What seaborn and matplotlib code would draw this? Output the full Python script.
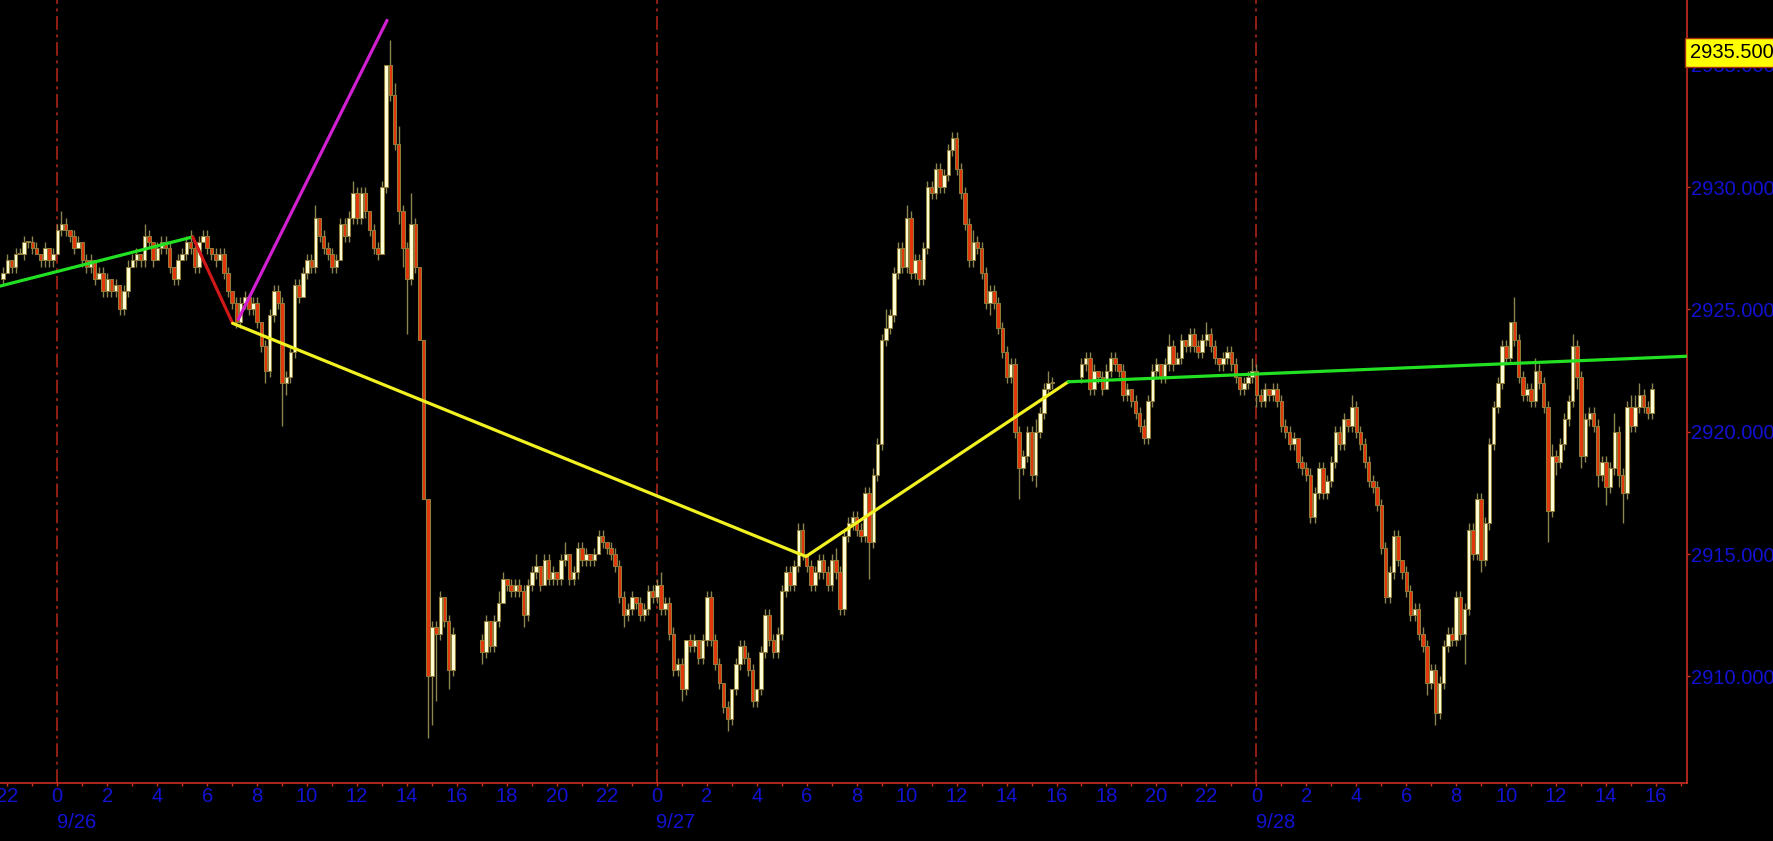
import numpy as np
import pandas as pd
import matplotlib
matplotlib.use("Agg")
import matplotlib.pyplot as plt
import seaborn as sns
from matplotlib.transforms import blended_transform_factory

# ---------------- data (10-minute ES bars, hours since 9/26 00:00) ----------------
TICK = 0.25
session_start_hour = [-13 / 6, 17.0, 41.0]
session_first_open = [2926.25, 2911.50, 2922.25]

s1_close = [
    2926.50, 2927.00, 2926.75, 2927.25, 2927.25, 2927.75, 2927.75, 2927.50, 2927.25, 2927.00,
    2927.50, 2927.00, 2927.25, 2928.25, 2928.50, 2928.25, 2928.00, 2927.50, 2927.75, 2927.00,
    2926.75, 2927.00, 2926.25, 2926.50, 2925.75, 2926.25, 2925.75, 2926.00, 2925.00, 2925.75,
    2926.75, 2927.00, 2927.25, 2927.00, 2928.00, 2927.75, 2927.00, 2927.50, 2927.75, 2927.50,
    2926.75, 2926.25, 2927.00, 2927.25, 2927.75, 2927.50, 2926.75, 2927.75, 2928.00, 2927.50,
    2927.25, 2927.00, 2927.25, 2926.50, 2925.75, 2925.25, 2924.50, 2925.25, 2925.50, 2925.00,
    2925.25, 2924.50, 2923.50, 2922.50, 2924.75, 2925.75, 2925.25, 2922.00, 2922.25, 2923.25,
    2926.00, 2925.50, 2926.50, 2927.00, 2926.75, 2928.75, 2928.00, 2927.50, 2927.25, 2926.75,
    2927.00, 2928.50, 2928.00, 2928.75, 2929.75, 2928.75, 2929.75, 2929.00, 2928.25, 2927.50,
    2927.25, 2930.00, 2935.00, 2933.75, 2931.75, 2929.00, 2927.50, 2926.25, 2928.50, 2926.75,
    2923.75, 2917.25, 2910.00, 2912.00, 2911.75, 2913.25, 2912.25, 2910.25, 2911.75,
]
s1_wick_up = [
    1, 1, 0, 1, 1, 1, 0, 1, 1, 0,
    1, 0, 1, 1, 2, 1, 0, 1, 1, 0,
    1, 1, 0, 1, 1, 1, 0, 1, 0, 1,
    1, 1, 1, 0, 2, 1, 0, 1, 1, 1,
    1, 0, 1, 1, 1, 2, 1, 1, 1, 1,
    0, 1, 1, 1, 1, 0, 1, 1, 1, 0,
    1, 1, 0, 1, 1, 1, 1, 1, 1, 1,
    1, 1, 1, 1, 1, 2, 0, 1, 1, 1,
    1, 1, 1, 1, 2, 1, 1, 1, 0, 1,
    1, 1, 0, 4, 2, 3, 1, 1, 5, 1,
    0, 0, 0, 1, 1, 1, 0, 1, 1,
]
s1_wick_dn = [
    1, 0, 1, 1, 0, 1, 1, 1, 0, 1,
    1, 1, 1, 0, 1, 1, 1, 1, 0, 1,
    1, 1, 1, 0, 1, 1, 1, 1, 1, 1,
    1, 0, 1, 1, 1, 1, 1, 0, 1, 1,
    1, 1, 1, 0, 1, 1, 1, 1, 0, 1,
    1, 1, 0, 1, 1, 1, 1, 1, 1, 1,
    1, 1, 1, 2, 1, 1, 1, 7, 2, 1,
    1, 1, 0, 1, 1, 1, 1, 1, 1, 1,
    1, 0, 1, 1, 1, 1, 1, 1, 1, 1,
    1, 0, 1, 1, 1, 2, 3, 9, 1, 1,
    0, 0, 10, 8, 11, 1, 1, 3, 1,
]

s2_close = [
    2911.00, 2912.25, 2911.25, 2912.25, 2913.00, 2914.00, 2913.75, 2913.50, 2913.75, 2913.50,
    2912.50, 2913.75, 2914.25, 2914.50, 2913.75, 2914.75, 2914.00, 2914.25, 2914.00, 2914.75,
    2915.00, 2914.00, 2914.25, 2915.25, 2914.75, 2915.00, 2914.75, 2915.00, 2915.75, 2915.50,
    2915.25, 2915.00, 2914.50, 2913.25, 2912.50, 2912.75, 2913.25, 2913.00, 2912.50, 2912.75,
    2913.50, 2913.25, 2913.75, 2912.75, 2913.00, 2911.75, 2910.25, 2910.50, 2909.50, 2911.50,
    2911.25, 2911.50, 2910.75, 2911.50, 2913.25, 2911.50, 2910.50, 2909.75, 2908.75, 2908.25,
    2909.50, 2910.50, 2911.25, 2910.75, 2910.25, 2909.00, 2909.50, 2911.00, 2912.50, 2911.50,
    2911.00, 2911.75, 2913.50, 2914.25, 2913.75, 2914.50, 2916.00, 2915.00, 2914.50, 2913.75,
    2914.25, 2914.75, 2914.25, 2913.75, 2914.75, 2914.25, 2912.75, 2915.75, 2916.25, 2916.50,
    2916.00, 2915.75, 2917.50, 2915.50, 2918.25, 2919.50, 2923.75, 2924.25, 2924.75, 2926.50,
    2927.50, 2926.75, 2928.75, 2926.50, 2927.00, 2926.25, 2927.50, 2930.00, 2929.75, 2930.75,
    2930.00, 2930.50, 2931.50, 2932.00, 2930.75, 2929.75, 2928.50, 2927.00, 2927.75, 2927.50,
    2926.50, 2925.25, 2925.75, 2925.25, 2924.25, 2923.25, 2922.25, 2922.75, 2920.00, 2918.50,
    2919.00, 2920.00, 2918.25, 2920.00, 2920.75, 2921.75, 2922.00, 2922.00,
]
s2_wick_up = [
    1, 1, 0, 1, 2, 1, 0, 1, 1, 1,
    1, 1, 1, 2, 0, 1, 1, 1, 0, 1,
    2, 0, 1, 1, 1, 1, 0, 1, 1, 1,
    0, 1, 1, 1, 1, 1, 1, 0, 1, 1,
    1, 1, 1, 2, 1, 1, 1, 1, 1, 0,
    1, 1, 0, 1, 1, 1, 1, 1, 0, 1,
    0, 1, 1, 1, 1, 1, 0, 1, 1, 1,
    1, 1, 1, 1, 1, 1, 1, 1, 0, 1,
    1, 1, 1, 1, 1, 2, 1, 1, 1, 1,
    1, 1, 1, 1, 1, 1, 1, 3, 1, 1,
    1, 1, 2, 1, 1, 1, 1, 1, 1, 1,
    1, 1, 1, 1, 1, 1, 1, 1, 2, 1,
    1, 1, 1, 1, 1, 1, 1, 1, 1, 1,
    1, 1, 1, 2, 1, 1, 2, 1,
]
s2_wick_dn = [
    2, 1, 1, 1, 1, 0, 1, 1, 1, 1,
    2, 1, 1, 1, 1, 0, 1, 1, 1, 1,
    1, 1, 1, 1, 1, 1, 1, 1, 0, 1,
    1, 1, 1, 1, 2, 1, 1, 1, 1, 1,
    1, 1, 1, 1, 1, 1, 1, 1, 2, 1,
    1, 1, 1, 1, 1, 1, 1, 1, 1, 2,
    1, 1, 1, 1, 1, 1, 1, 1, 1, 1,
    1, 1, 1, 1, 1, 1, 1, 1, 1, 1,
    1, 1, 1, 1, 1, 1, 1, 1, 1, 1,
    1, 1, 1, 6, 1, 1, 1, 1, 1, 1,
    1, 1, 1, 1, 1, 1, 1, 1, 1, 1,
    1, 1, 1, 1, 1, 1, 1, 1, 1, 1,
    1, 1, 2, 1, 1, 1, 1, 1, 1, 5,
    1, 1, 1, 2, 1, 1, 1, 1,
]

s3_close = [
    2922.75, 2923.00, 2921.75, 2922.50, 2922.25, 2921.75, 2922.50, 2923.00, 2922.75, 2922.50,
    2921.50, 2921.75, 2921.25, 2920.75, 2920.25, 2919.75, 2921.25, 2922.50, 2922.75, 2922.25,
    2922.75, 2923.50, 2922.75, 2923.00, 2923.75, 2923.50, 2924.00, 2923.50, 2923.25, 2923.75,
    2924.00, 2923.50, 2923.00, 2922.75, 2923.00, 2923.25, 2922.75, 2922.25, 2921.75, 2922.00,
    2922.25, 2922.50, 2921.50, 2921.25, 2921.75, 2921.50, 2921.75, 2921.25, 2920.25, 2920.00,
    2919.50, 2919.75, 2918.75, 2918.50, 2918.25, 2916.50, 2917.50, 2918.50, 2917.50, 2918.00,
    2918.75, 2920.00, 2919.50, 2920.50, 2920.25, 2921.00, 2920.00, 2919.50, 2918.75, 2918.00,
    2917.75, 2917.00, 2915.25, 2913.25, 2914.25, 2915.75, 2914.75, 2914.25, 2913.50, 2912.50,
    2912.75, 2911.75, 2911.25, 2909.75, 2910.25, 2908.50, 2909.75, 2911.25, 2911.75, 2911.50,
    2913.25, 2911.75, 2912.75, 2916.00, 2915.00, 2917.25, 2914.75, 2916.25, 2919.50, 2921.00,
    2922.00, 2923.50, 2923.00, 2924.50, 2923.75, 2922.25, 2921.50, 2921.75, 2921.25, 2922.50,
    2922.00, 2921.00, 2916.75, 2919.00, 2918.75, 2919.50, 2920.50, 2921.25, 2923.50, 2922.25,
    2919.00, 2920.50, 2920.75, 2920.25, 2918.25, 2918.75, 2917.75, 2918.50, 2920.00, 2918.25,
    2917.50, 2921.00, 2920.25, 2921.00, 2921.50, 2921.00, 2920.75, 2921.75,
]
s3_wick_up = [
    1, 1, 1, 1, 0, 1, 1, 1, 1, 0,
    1, 1, 0, 1, 1, 1, 1, 1, 1, 0,
    1, 2, 1, 1, 1, 0, 1, 1, 1, 1,
    2, 1, 1, 0, 1, 1, 1, 1, 0, 1,
    1, 2, 1, 1, 1, 0, 1, 1, 1, 1,
    1, 1, 0, 1, 1, 1, 1, 1, 1, 1,
    1, 1, 1, 1, 0, 2, 1, 1, 1, 1,
    1, 1, 1, 1, 1, 1, 1, 0, 1, 1,
    1, 1, 1, 1, 1, 1, 1, 1, 1, 1,
    1, 1, 1, 1, 1, 1, 1, 1, 1, 1,
    1, 1, 1, 0, 4, 1, 1, 1, 1, 2,
    1, 1, 1, 2, 1, 1, 1, 1, 2, 1,
    1, 1, 1, 1, 1, 1, 1, 1, 3, 1,
    1, 1, 2, 2, 2, 1, 1, 1,
]
s3_wick_dn = [
    1, 1, 1, 1, 1, 1, 0, 1, 1, 1,
    1, 1, 1, 1, 1, 1, 1, 1, 1, 1,
    1, 1, 1, 0, 1, 1, 1, 1, 1, 1,
    1, 1, 1, 1, 1, 1, 1, 1, 1, 1,
    1, 1, 2, 1, 1, 1, 1, 1, 1, 1,
    1, 1, 1, 1, 1, 1, 1, 1, 1, 1,
    1, 1, 1, 1, 1, 1, 1, 1, 1, 1,
    1, 1, 1, 1, 1, 1, 1, 1, 1, 1,
    1, 1, 1, 2, 1, 2, 1, 1, 1, 1,
    1, 1, 5, 1, 1, 1, 2, 1, 1, 1,
    1, 1, 1, 1, 1, 1, 1, 1, 1, 1,
    1, 1, 5, 1, 2, 1, 1, 1, 1, 2,
    2, 1, 1, 1, 2, 1, 3, 1, 1, 2,
    5, 1, 1, 1, 1, 1, 1, 1,
]

# drawn trend lines (hour, price)
green1_x, green1_y = [-2.45, 5.42], [2925.91, 2927.96]
red_x, red_y = [5.42, 7.02], [2927.96, 2924.43]
magenta_x, magenta_y = [7.25, 13.20], [2924.60, 2936.81]
yellow_x, yellow_y = [7.02, 29.97, 40.47], [2924.43, 2914.90, 2922.04]
green2_x, green2_y = [40.47, 65.40], [2922.04, 2923.09]

day_boundaries = [0, 24, 48]
day_labels = ["9/26", "9/27", "9/28"]
price_ticks = [2910, 2915, 2920, 2925, 2930, 2935]
last_marker_price = 2935.5

# ---------------- build bars ----------------
rows = []
sessions = [(s1_close, s1_wick_up, s1_wick_dn), (s2_close, s2_wick_up, s2_wick_dn),
            (s3_close, s3_wick_up, s3_wick_dn)]
for s, (closes, wu, wd) in enumerate(sessions):
    o = session_first_open[s]
    for i, c in enumerate(closes):
        t = session_start_hour[s] + i / 6
        rows.append(dict(t=t, open=o, close=c,
                         high=max(o, c) + wu[i] * TICK,
                         low=min(o, c) - wd[i] * TICK))
        o = c
bars = pd.DataFrame(rows)

# ---------------- style ----------------
sns.set_theme(style="dark")
plt.rcParams["font.family"] = ["Liberation Sans", "DejaVu Sans"]

BG = "black"
UP_FILL = "#FFFFD8"
DN_FILL = "#E4360C"
EDGE = "#8E7C38"
WICK = "#8A8450"
AXIS_RED = "#C83020"
BLUE = "#1212D2"

fig = plt.figure(figsize=(17.73, 8.41), dpi=100, facecolor=BG)
ax = fig.add_axes([0.0, 58 / 841, 1687 / 1773, 783 / 841])
ax.set_facecolor(BG)
ax.grid(False)

for h in day_boundaries:
    ax.axvline(h, color="#B82818", lw=1.1, dashes=(9, 3, 2, 3), zorder=1)

ax.vlines(bars["t"], bars["low"], bars["high"], color=WICK, lw=1.0, zorder=2)
up = bars["close"] >= bars["open"]
body_h = (bars["close"] - bars["open"]).abs().clip(lower=0.04)
body_b = bars[["open", "close"]].min(axis=1)
ax.bar(bars["t"], body_h, bottom=body_b, width=0.138,
       color=np.where(up, UP_FILL, DN_FILL), edgecolor=EDGE, linewidth=0.75, zorder=3)

for xs, ys, col in [(green1_x, green1_y, "#22E022"), (red_x, red_y, "#D01818"),
                    (magenta_x, magenta_y, "#D020D0"), (yellow_x, yellow_y, "#F2F222"),
                    (green2_x, green2_y, "#22E022")]:
    sns.lineplot(x=xs, y=ys, ax=ax, color=col, lw=2.3, sort=False,
                 estimator=None, zorder=5)

ax.set_xlim(-2.294, 65.24)
ax.set_ylim(2905.644, 2937.642)

for side in ["left", "top"]:
    ax.spines[side].set_visible(False)
for side in ["right", "bottom"]:
    ax.spines[side].set_visible(True)
    ax.spines[side].set_color(AXIS_RED)
    ax.spines[side].set_linewidth(1.2)

ax.yaxis.tick_right()
ax.set_yticks(price_ticks)
ax.set_yticklabels([f"{v:.4f}" for v in price_ticks])
ax.tick_params(axis="y", which="major", direction="out", length=2.2, width=1,
               color=AXIS_RED, pad=0.6, labelsize=14.5, labelcolor=BLUE,
               right=True, left=False)

major_x = list(range(-2, 65, 2))
ax.set_xticks(major_x)
ax.set_xticklabels([str(h % 24) for h in major_x])
ax.set_xticks(list(range(-2, 66)), minor=True)
ax.tick_params(axis="x", which="both", direction="out", length=2.2, width=1,
               color=AXIS_RED, pad=0.8, labelsize=14.5, labelcolor=BLUE, bottom=True)
ax.set_xlabel("")
ax.set_ylabel("")

trans = blended_transform_factory(ax.transData, ax.transAxes)
for h, lab in zip(day_boundaries, day_labels):
    ax.text(h - 0.03, -40 / 783, lab, transform=trans, ha="left", va="center",
            fontsize=14.5, color=BLUE, clip_on=False)

ytrans = blended_transform_factory(ax.transAxes, ax.transData)
ax.text(1690 / 1687, last_marker_price, f"{last_marker_price:.4f}", transform=ytrans,
        ha="left", va="center", fontsize=14.5, color="black", clip_on=False, zorder=10,
        bbox=dict(boxstyle="square,pad=0.24", fc="#FFFF00", ec="#A83010", lw=1.0))

fig.savefig("out.png", dpi=100, facecolor=BG)
